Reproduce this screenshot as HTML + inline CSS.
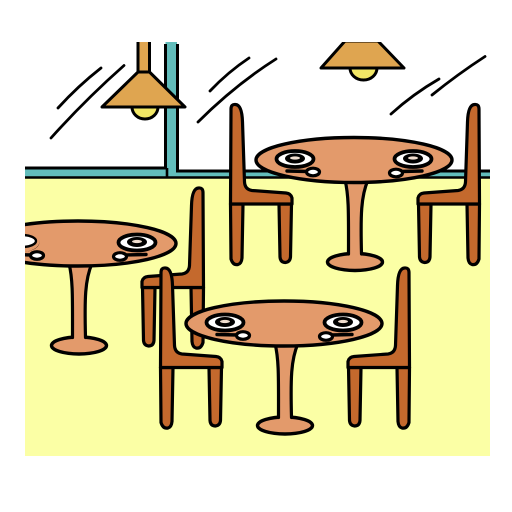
<!DOCTYPE html>
<html>
<head>
<meta charset="utf-8">
<style>
html,body{margin:0;padding:0;background:#fff;width:512px;height:512px;overflow:hidden}
svg{display:block}
</style>
</head>
<body>
<svg width="512" height="512" viewBox="0 0 512 512" xmlns="http://www.w3.org/2000/svg">
<defs>
<clipPath id="frame"><rect x="25" y="42" width="465" height="414"/></clipPath>
<g id="chair" stroke="#000" stroke-width="3.2" stroke-linejoin="round" fill="#C4692D">
<path d="M418.5,204 L431,204 L430,257 Q429.5,262.500 424.500,262.500 Q420,262 419.500,257 Z"/>
<path d="M467,204 L479.500,204 L479,259 Q477,265.500 472,264.500 Q468.500,263.500 468,258 Z"/>
<path d="M467.500,122 Q468,105 474.500,104.500 Q479,104 479,109 L479.500,204 L418,204 L418,198 Q419,193.500 424,193 L458,190.500 Q465,189.500 465.500,182 Z"/>
</g>
<g id="table" stroke="#000" stroke-linejoin="round">
<ellipse cx="355" cy="262" rx="27.500" ry="8.500" fill="#E39A6B" stroke-width="3.4"/>
<path d="M345,180 C349,196 348.500,215 348.500,258 L361.500,258 C360.500,215 361,196 368,180 Z" fill="#E39A6B" stroke="none"/>
<path d="M345,180 C349,196 348.500,215 348.500,254 M368,180 C361,196 360.500,215 361.500,254" fill="none" stroke-width="3.2" stroke-linecap="round"/>
<ellipse cx="354" cy="160" rx="98" ry="22.500" fill="#E39A6B" stroke-width="3.4"/>
<ellipse cx="295" cy="159" rx="18.500" ry="8" fill="#fff" stroke-width="3.8"/>
<ellipse cx="295" cy="158.500" rx="10" ry="5" fill="#000" stroke="none"/>
<ellipse cx="295" cy="158" rx="5" ry="1.600" fill="#F1DFD0" stroke="none"/>
<ellipse cx="413" cy="159" rx="18.500" ry="8" fill="#fff" stroke-width="3.8"/>
<ellipse cx="413" cy="158.500" rx="10" ry="5" fill="#000" stroke="none"/>
<ellipse cx="413" cy="158" rx="5" ry="1.600" fill="#F1DFD0" stroke="none"/>
<path d="M287,171 L308,171.500" fill="none" stroke-width="3.4" stroke-linecap="round"/>
<ellipse cx="313" cy="172" rx="6.500" ry="3.800" fill="#fff" stroke-width="3.2"/>
<path d="M422,171 L401,171.500" fill="none" stroke-width="3.4" stroke-linecap="round"/>
<ellipse cx="396" cy="173" rx="6.500" ry="3.800" fill="#fff" stroke-width="3.2"/>
</g>
</defs>
<g clip-path="url(#frame)">
<rect x="25" y="178" width="465" height="278" fill="#FBFFA5"/>
<g>
<path d="M25,168 H165.500 V42 H177 V171 H490 V178 H25 Z" fill="#62BDBB"/>
<path d="M25,168 H165.500 V44" fill="none" stroke="#000" stroke-width="3"/>
<path d="M177.500,44 V171 H490" fill="none" stroke="#000" stroke-width="3"/>
<path d="M25,177.500 H490 M167,168 V177" fill="none" stroke="#000" stroke-width="2.600"/>
</g>
<g fill="none" stroke="#000" stroke-width="2.800" stroke-linecap="round">
<path d="M58,108 Q78,86 101,68"/>
<path d="M51,138 Q85,100 124,65.500"/>
<path d="M210,91 Q228,72 249,58"/>
<path d="M198,122 Q235,85 276,59"/>
<path d="M391,114 Q413,94 439,79"/>
<path d="M432,95 Q458,74 485,56.500"/>
</g>
<g stroke="#000" stroke-width="3" stroke-linejoin="round">
<path d="M132,107 A13,12 0 0 0 158,107 Z" fill="#F2E766"/>
<path d="M138,42 V72 H149.500 V42" fill="#DFA550"/>
<path d="M138,72 H149.500 L185,107 H102 Z" fill="#DFA550"/>
</g>
<g stroke="#000" stroke-width="3" stroke-linejoin="round">
<path d="M350,68 A13.500,12 0 0 0 377,68 Z" fill="#F2E766"/>
<path d="M345,41 H378 L404,68 H321 Z" fill="#DFA550"/>
</g>
<g>
<use href="#chair" transform="translate(-276,83.500)"/>
<use href="#table" transform="translate(-276,83.500)"/>
<ellipse cx="19" cy="242" rx="20.500" ry="10.500" fill="#E39A6B"/>
<ellipse cx="22" cy="241" rx="14" ry="6" fill="#fff" stroke="#000" stroke-width="2.400"/>
</g>
<g>
<use href="#chair" transform="translate(710,0) scale(-1,1)"/>
<use href="#chair"/>
<use href="#table"/>
</g>
<g>
<use href="#chair" transform="translate(640,163.500) scale(-1,1)"/>
<use href="#chair" transform="translate(-70,163.500)"/>
<use href="#table" transform="translate(-70,163.500)"/>
</g>
</g>
</svg>
</body>
</html>
